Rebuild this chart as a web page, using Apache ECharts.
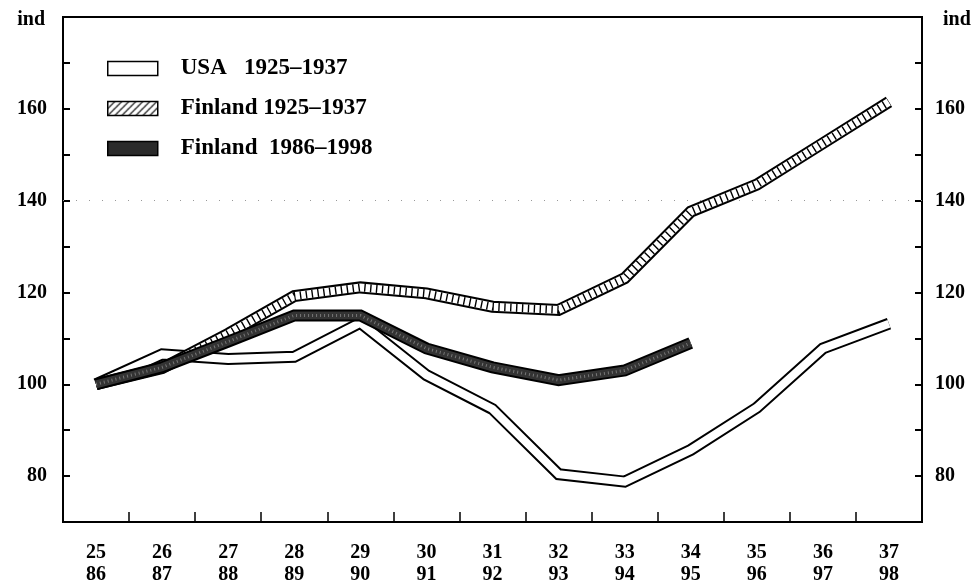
<!DOCTYPE html>
<html>
<head>
<meta charset="utf-8">
<script src="https://cdn.jsdelivr.net/npm/echarts@6/dist/echarts.min.js"></script>
<style>
  html, body { margin: 0; padding: 0; background: #fff; }
  #chart { width: 976px; height: 586px; }
</style>
</head>
<body>
<div id="chart"></div>
<script>
// years on the two rows of the x axis
var years1 = ['25', '26', '27', '28', '29', '30', '31', '32', '33', '34', '35', '36', '37'];
var years2 = ['86', '87', '88', '89', '90', '91', '92', '93', '94', '95', '96', '97', '98'];

// index values
var usa = [100, 106.5, 105.5, 106, 113.4, 102, 94.6, 80.4, 78.8, 85.7, 94.9, 107.8, 113.2];
var fin1925 = [100, 103.5, 111, 119.2, 121.1, 119.8, 116.9, 116.2, 123.1, 137.6, 143.5, 152.5, 161.5];
var fin1986 = [100, 103.7, 109.3, 115, 115, 107.8, 103.7, 100.9, 103, 109, null, null, null];

var names = ['USA   1925–1937', 'Finland 1925–1937', 'Finland  1986–1998'];

var FONT = '"Liberation Serif", "Times New Roman", serif';

var cats = [];
for (var i = 0; i < years1.length; i++) {
	cats.push(years1[i] + '\n' + years2[i]);
}

// hatch pattern for legend box
function hatchPattern() {
	var c = document.createElement('canvas');
	c.width = 7; c.height = 7;
	var ctx = c.getContext('2d');
	ctx.fillStyle = '#fff';
	ctx.fillRect(0, 0, 7, 7);
	ctx.strokeStyle = '#000';
	ctx.lineWidth = 1.2;
	ctx.beginPath();
	ctx.moveTo(0, 7); ctx.lineTo(7, 0);
	ctx.moveTo(-1, 1); ctx.lineTo(1, -1);
	ctx.moveTo(6, 8); ctx.lineTo(8, 6);
	ctx.stroke();
	return { image: c, repeat: 'repeat' };
}

function band(name, data, color, width, z, type) {
	return {
		name: name,
		type: 'line',
		data: data,
		symbol: 'none',
		z: z,
		silent: true,
		itemStyle: { color: color },
		lineStyle: { color: color, width: width, type: type || 'solid', join: 'miter', cap: 'butt' }
	};
}

var chart = echarts.init(document.getElementById('chart'));

var series = [
	band(names[0], usa, '#000', 12, 2),
	band('_usa_in', usa, '#fff', 8, 3),
	band(names[1], fin1925, '#000', 12, 4),
	band('_fin_in', fin1925, '#fff', 8, 5),
	band('_fin_hatch', fin1925, '#000', 8, 6, [1.4, 4.5]),
	band(names[2], fin1986, '#000', 12, 7),
	band('_fin86_in', fin1986, '#333', 8, 8),
	band('_fin86_dots', fin1986, '#777', 3, 9, [1, 3])
];

// faint dotted line at 140
series[0].markLine = {
	silent: true,
	symbol: 'none',
	label: { show: false },
	lineStyle: { color: '#999', width: 1, type: [1, 12] },
	data: [{ yAxis: 140 }]
};

var tickStyle = { color: '#000', width: 2 };
var labelFmt = function (v) { return (v % 20 === 0 && v >= 80 && v <= 160) ? v : ''; };

var option = {
	animation: false,
	backgroundColor: '#fff',
	grid: {
		left: 63, right: 54, top: 17, bottom: 63,
		show: true, borderColor: '#000', borderWidth: 2
	},
	legend: {
		orient: 'vertical',
		left: 102, top: 52,
		itemWidth: 50, itemHeight: 14,
		itemGap: 17,
		selectedMode: false,
		textStyle: { fontFamily: FONT, fontWeight: 'bold', fontSize: 23, color: '#000', padding: [0, 0, 0, 18] },
		data: [
			{ name: names[0], icon: 'rect', itemStyle: { color: '#fff', borderColor: '#000', borderWidth: 1.5 } },
			{ name: names[1], icon: 'rect', itemStyle: { color: hatchPattern(), borderColor: '#000', borderWidth: 1.5 } },
			{ name: names[2], icon: 'rect', itemStyle: { color: '#2a2a2a', borderColor: '#000', borderWidth: 1.5 } }
		]
	},
	xAxis: {
		type: 'category',
		data: cats,
		boundaryGap: true,
		axisLine: { show: true, lineStyle: { color: '#000', width: 2 } },
		axisTick: { show: true, inside: true, length: 10, interval: 0, lineStyle: { color: '#000', width: 1.5 } },
		axisLabel: {
			interval: 0, margin: 20, lineHeight: 22,
			fontFamily: FONT, fontWeight: 'bold', fontSize: 20, color: '#000'
		},
		splitLine: { show: false }
	},
	yAxis: [{
		type: 'value',
		position: 'left',
		min: 70, max: 180, interval: 10,
		name: 'ind',
		nameLocation: 'end',
		nameGap: -3,
		nameTextStyle: { fontFamily: FONT, fontWeight: 'bold', fontSize: 20, color: '#000', align: 'right', verticalAlign: 'middle', padding: [0, 18, 0, 0] },
		axisLine: { show: true, lineStyle: { color: '#000', width: 2 } },
		axisTick: { show: true, inside: true, length: 7, lineStyle: tickStyle },
		axisLabel: {
			margin: 16,
			fontFamily: FONT, fontWeight: 'bold', fontSize: 20, color: '#000',
			formatter: labelFmt
		},
		splitLine: { show: false }
	}, {
		type: 'value',
		position: 'right',
		min: 70, max: 180, interval: 10,
		name: 'ind',
		nameLocation: 'end',
		nameGap: -3,
		nameTextStyle: { fontFamily: FONT, fontWeight: 'bold', fontSize: 20, color: '#000', align: 'left', verticalAlign: 'middle', padding: [0, 0, 0, 21] },
		axisLine: { show: true, lineStyle: { color: '#000', width: 2 } },
		axisTick: { show: true, inside: true, length: 7, lineStyle: tickStyle },
		axisLabel: {
			margin: 13,
			fontFamily: FONT, fontWeight: 'bold', fontSize: 20, color: '#000',
			formatter: labelFmt
		},
		splitLine: { show: false }
	}],
	series: series
};

chart.setOption(option);
</script>
</body>
</html>
